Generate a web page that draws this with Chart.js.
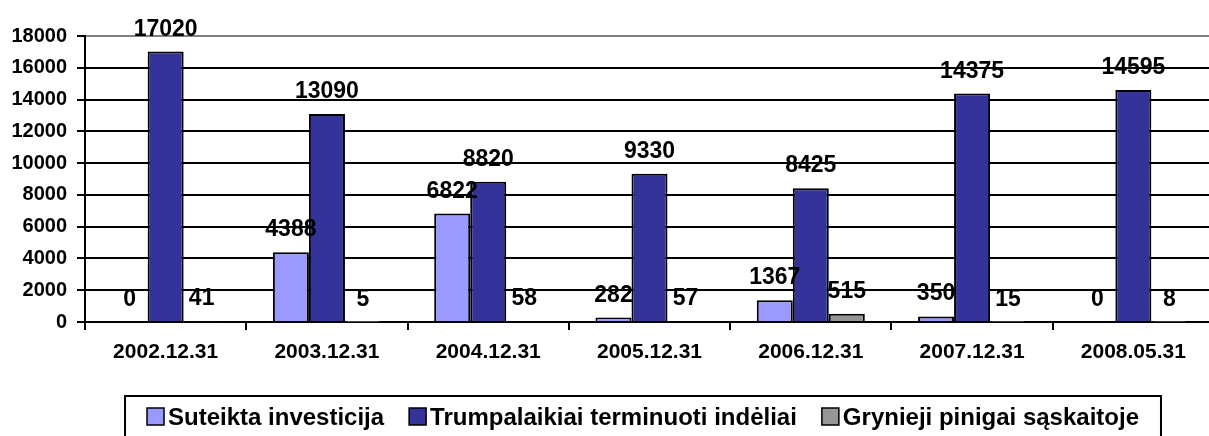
<!DOCTYPE html>
<html>
<head>
<meta charset="utf-8">
<script src="https://cdn.jsdelivr.net/npm/chart.js@4.4.1/dist/chart.umd.min.js"></script>
<style>
  html, body { margin: 0; padding: 0; background: #fff; overflow: hidden; }
  #wrap { width: 1216px; height: 436px; }
</style>
</head>
<body>
<div id="wrap"><canvas id="chart" width="1216" height="436"></canvas></div>
<script>
// chart data
var categories = ['2002.12.31', '2003.12.31', '2004.12.31', '2005.12.31', '2006.12.31', '2007.12.31', '2008.05.31'];
var investicija = [0, 4388, 6822, 282, 1367, 350, 0];
var indeliai = [17020, 13090, 8820, 9330, 8425, 14375, 14595];
var pinigai = [41, 5, 58, 57, 515, 15, 8];
var seriesNames = ['Suteikta investicija', 'Trumpalaikiai terminuoti indėliai', 'Grynieji pinigai sąskaitoje'];
var yTicks = [0, 2000, 4000, 6000, 8000, 10000, 12000, 14000, 16000, 18000];

var FONT = '"Liberation Sans", Arial, sans-serif';

// value labels above each bar
var valueLabels = {
  id: 'valueLabels',
  afterDatasetsDraw: function (chart) {
    var ctx = chart.ctx;
    ctx.save();
    ctx.font = 'bold 23px ' + FONT;
    ctx.fillStyle = '#000';
    ctx.textAlign = 'center';
    ctx.textBaseline = 'alphabetic';
    chart.data.datasets.forEach(function (ds, i) {
      chart.getDatasetMeta(i).data.forEach(function (bar, j) {
        ctx.fillText(String(ds.data[j]), bar.x, bar.y - 16);
      });
    });
    ctx.restore();
  }
};

// framed legend below the axis
var boxLegend = {
  id: 'boxLegend',
  afterDraw: function (chart) {
    var ctx = chart.ctx;
    var sq = 17, gapText = 4, gapItem = 25, pad = 22;
    ctx.save();
    ctx.font = 'bold 24px ' + FONT;
    var widths = chart.data.datasets.map(function (ds) {
      return sq + gapText + ctx.measureText(ds.label).width;
    });
    var total = widths.reduce(function (a, b) { return a + b; }, 0) + gapItem * (widths.length - 1);
    var left = 643 - total / 2;
    ctx.lineWidth = 2;
    ctx.strokeStyle = '#000';
    ctx.strokeRect(left - pad, 396, total + 2 * pad, 60);
    var x = left;
    chart.data.datasets.forEach(function (ds, i) {
      ctx.fillStyle = ds.backgroundColor;
      ctx.fillRect(x, 408, sq, sq);
      ctx.lineWidth = 1.5;
      ctx.strokeRect(x, 408, sq, sq);
      ctx.fillStyle = '#000';
      ctx.textAlign = 'left';
      ctx.textBaseline = 'alphabetic';
      ctx.fillText(ds.label, x + sq + gapText, 425);
      x += widths[i] + gapItem;
    });
    ctx.restore();
  }
};

var barStyle = {
  borderColor: '#000',
  borderWidth: 2,
  categoryPercentage: 0.67,
  barPercentage: 1.0
};

var chart = new Chart(document.getElementById('chart'), {
  type: 'bar',
  data: {
    labels: categories,
    datasets: [
      Object.assign({ label: seriesNames[0], data: investicija, backgroundColor: '#9999FF' }, barStyle),
      Object.assign({ label: seriesNames[1], data: indeliai, backgroundColor: '#333399' }, barStyle),
      Object.assign({ label: seriesNames[2], data: pinigai, backgroundColor: '#969696' }, barStyle)
    ]
  },
  options: {
    responsive: false,
    animation: false,
    devicePixelRatio: 1,
    layout: { padding: { top: 36, bottom: 61, left: 0, right: 2 } },
    plugins: {
      legend: { display: false },
      tooltip: { enabled: false }
    },
    scales: {
      x: {
        grid: {
          offset: true,
          drawOnChartArea: false,
          drawTicks: true,
          tickLength: 8,
          color: '#000',
          lineWidth: 2
        },
        border: { display: true, color: '#000', width: 2 },
        ticks: {
          color: '#000',
          font: { family: FONT, size: 21, weight: 'bold' },
          padding: 10,
          maxRotation: 0,
          autoSkip: false
        },
        afterFit: function (scale) { scale.height = 53; }
      },
      y: {
        min: 0,
        max: 18000,
        afterBuildTicks: function (scale) {
          scale.ticks = yTicks.map(function (v) { return { value: v }; });
        },
        grid: {
          color: function (c) { return c.tick && c.tick.value === 18000 ? '#808080' : '#000'; },
          tickColor: '#000',
          lineWidth: 2,
          tickLength: 8
        },
        border: { display: true, color: '#000', width: 2 },
        ticks: {
          color: '#000',
          font: { family: FONT, size: 20, weight: 'bold' },
          padding: 10,
          callback: function (v) { return String(v); }
        },
        afterFit: function (scale) { scale.width = 85; }
      }
    }
  },
  plugins: [valueLabels, boxLegend]
});
</script>
</body>
</html>
